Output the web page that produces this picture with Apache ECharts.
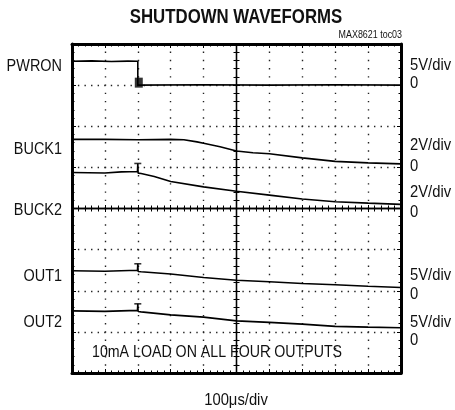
<!DOCTYPE html>
<html>
<head>
<meta charset="utf-8">
<script src="https://cdn.jsdelivr.net/npm/echarts@6/dist/echarts.min.js"></script>
<style>
  html, body { margin: 0; padding: 0; background: #fff; }
  #chart { width: 455px; height: 410px; }
</style>
</head>
<body>
<div id="chart"></div>
<script>
// time in us (100us/div, 10 div), values in volts
var pwron = [[0, 2.9], [60, 2.95], [120, 2.88], [170, 2.92], [200, 2.9], [200, 0], [400, 0.05], [600, 0], [800, 0.04], [1000, 0]];
var buck1 = [[0, 1.36], [100, 1.36], [200, 1.34], [300, 1.36], [340, 1.34], [380, 1.24], [400, 1.17], [450, 1.0],
             [500, 0.8], [550, 0.71], [600, 0.66], [700, 0.46], [800, 0.29], [900, 0.22], [1000, 0.17]];
var buck2 = [[0, 1.75], [100, 1.73], [150, 1.78], [199, 1.8], [200, 2.19], [201, 1.72], [210, 1.7], [250, 1.56],
             [300, 1.31], [400, 1.05], [500, 0.84], [600, 0.65], [700, 0.46], [800, 0.33], [900, 0.26], [1000, 0.2]];
var out1 = [[0, 2.43], [100, 2.37], [199, 2.49], [200, 3.28], [201, 2.35], [210, 2.31], [300, 2.03], [400, 1.62],
            [500, 1.28], [600, 1.09], [700, 0.89], [800, 0.73], [900, 0.55], [1000, 0.4]];
var out2 = [[0, 2.55], [100, 2.49], [199, 2.62], [200, 3.41], [201, 2.47], [210, 2.43], [300, 2.07], [400, 1.79],
            [500, 1.34], [600, 1.16], [700, 0.94], [800, 0.67], [900, 0.58], [1000, 0.51]];

// channel settings: name, V/div, zero position (divisions from bottom)
var channelNames = ['PWRON', 'BUCK1', 'BUCK2', 'OUT1', 'OUT2'];
var voltsPerDiv = [5, 2, 2, 5, 5];
var zeroDiv = [7, 5, 4, 2, 1];
var scaleLabels = ['5V/div', '2V/div', '2V/div', '5V/div', '5V/div'];

var spikeTime = 200;
var spikeTops = [null, null, 2.19, 3.28, 3.41];
var pwronMarker = [[203, 0.3]];

// no narrow font installed -> squeeze Liberation Sans horizontally
var FONT = "'Liberation Sans', Arial, sans-serif";
var GL = 72, GT = 44, GW = 329, GH = 329;

var chart = echarts.init(document.getElementById('chart'));

function frameX(pos, split) {
    return {
        type: 'value', min: 0, max: 1000, interval: 100, position: pos, gridIndex: 0,
        axisLine: { show: true, onZero: false, lineStyle: { color: '#000', width: 3 } },
        axisTick: { show: true, inside: true, length: 4, lineStyle: { color: '#000', width: 1 } },
        minorTick: { show: true, splitNumber: 5, length: 2.5, lineStyle: { color: '#000', width: 1 } },
        axisLabel: { show: false },
        splitLine: { show: split, lineStyle: { color: '#222', width: 1.4, type: [1.4, 6.83], dashOffset: 0.7 } }
    };
}
function centerX(inside) {
    return {
        type: 'value', min: 0, max: 1000, interval: 100, position: 'bottom', offset: -GH / 2,
        axisLine: { show: true, onZero: false, lineStyle: { color: '#000', width: 1.3 } },
        axisTick: { show: true, inside: inside, length: 3.5, lineStyle: { color: '#000', width: 1 } },
        minorTick: { show: true, splitNumber: 5, length: 3, lineStyle: { color: '#000', width: 1 } },
        axisLabel: { show: false }, splitLine: { show: false }
    };
}
function frameY(pos, split) {
    return {
        type: 'value', min: 0, max: 8, interval: 1, position: pos,
        axisLine: { show: true, onZero: false, lineStyle: { color: '#000', width: 3 } },
        axisTick: { show: true, inside: true, length: 4, lineStyle: { color: '#000', width: 1 } },
        minorTick: { show: true, splitNumber: 5, length: 2.5, lineStyle: { color: '#000', width: 1 } },
        axisLabel: { show: false },
        splitLine: { show: split, lineStyle: { color: '#222', width: 1.4, type: [1.4, 5.18], dashOffset: 0.7 } }
    };
}
function centerY(inside) {
    return {
        type: 'value', min: 0, max: 8, interval: 1, position: 'left', offset: -GW / 2,
        axisLine: { show: true, onZero: false, lineStyle: { color: '#000', width: 1.3 } },
        axisTick: { show: true, inside: inside, length: 3.5, lineStyle: { color: '#000', width: 1 } },
        minorTick: { show: true, splitNumber: 5, length: 3, lineStyle: { color: '#000', width: 1 } },
        axisLabel: { show: false }, splitLine: { show: false }
    };
}

var yAxes = [frameY('left', true), frameY('right', false), centerY(true), centerY(false)];
channelNames.forEach(function (n, i) {
    yAxes.push({
        type: 'value', show: false,
        min: -zeroDiv[i] * voltsPerDiv[i],
        max: (8 - zeroDiv[i]) * voltsPerDiv[i]
    });
});

var traces = [pwron, buck1, buck2, out1, out2];
var series = [];
traces.forEach(function (d, i) {
    series.push({
        name: channelNames[i], type: 'line', xAxisIndex: 0, yAxisIndex: 4 + i,
        data: d, symbol: 'none', silent: true, animation: false,
        lineStyle: { color: '#000', width: 1.6 }
    });
    if (spikeTops[i] != null) {
        series.push({
            type: 'scatter', xAxisIndex: 0, yAxisIndex: 4 + i, silent: true, animation: false,
            data: [[spikeTime, spikeTops[i]]], symbol: 'rect', symbolSize: [7, 1.6],
            itemStyle: { color: '#000' }
        });
    }
});
series.push({
    type: 'scatter', xAxisIndex: 0, yAxisIndex: 4, silent: true, animation: false,
    data: pwronMarker, symbol: 'rect', symbolSize: [8, 10], itemStyle: { color: '#000' }
});

function txt(s, x, y, align, size, sx, weight) {
    return {
        type: 'text', x: x, y: y, scaleX: sx, silent: true,
        style: { text: s, fill: '#111', textAlign: align, textVerticalAlign: 'middle', verticalAlign: 'middle',
                 font: (weight || 'normal') + ' ' + size + 'px ' + FONT }
    };
}

var leftY = [66, 149, 210, 276, 322];
var divY = [65, 145, 192, 275, 322];
var zeroY = [83, 166, 212, 294, 340];
var graphics = [
    txt('SHUTDOWN WAVEFORMS', 236, 17, 'center', 20, 0.84, 'bold'),
    txt('MAX8621 toc03', 402, 35, 'right', 11, 0.81),
    txt('10mA LOAD ON ALL FOUR OUTPUTS', 92, 352, 'left', 17, 0.835),
    txt('100\u03bcs/div', 236, 400, 'center', 17, 0.87)
];
channelNames.forEach(function (n, i) {
    graphics.push(txt(n, 62, leftY[i], 'right', 17, 0.85));
    graphics.push(txt(scaleLabels[i], 410, divY[i], 'left', 17, 0.87));
    graphics.push(txt('0', 410, zeroY[i], 'left', 17, 0.87));
});

chart.setOption({
    backgroundColor: '#fff',
    animation: false,
    grid: { left: GL, top: GT, width: GW, height: GH, containLabel: false },
    xAxis: [frameX('bottom', true), frameX('top', false), centerX(true), centerX(false)],
    yAxis: yAxes,
    series: series,
    graphic: graphics
});
</script>
</body>
</html>
